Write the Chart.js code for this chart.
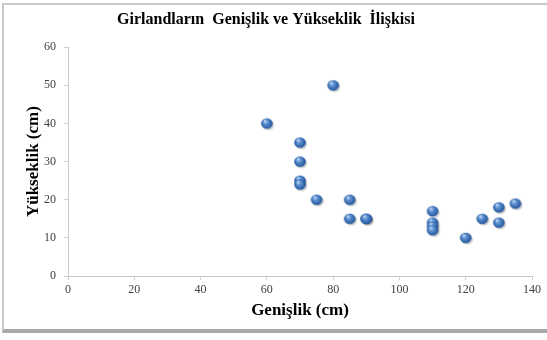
<!DOCTYPE html>
<html>
<head>
<meta charset="utf-8">
<script src="https://cdn.jsdelivr.net/npm/chart.js@4/dist/chart.umd.min.js"></script>
<style>
  html, body { margin: 0; padding: 0; background: #fff; }
  #wrap { position: relative; width: 547px; height: 340px; overflow: hidden; }
  #frame {
    position: absolute; left: 2px; top: 3px; width: 560px; height: 330px;
    border: 2px solid #c8c8c8; border-bottom: 4px solid #a9a9a9;
    box-sizing: border-box;
  }
  canvas { position: absolute; left: 0; top: 0; }
</style>
</head>
<body>
<div id="wrap">
  <div id="frame"></div>
  <canvas id="grafico" width="547" height="340"></canvas>
</div>
<script>
// genişlik (cm) ve yükseklik (cm) ölçümleri
const genislik = [60, 70, 70, 70, 70, 75, 80, 85, 85, 90, 90, 110, 110, 110, 110, 120, 125, 130, 130, 135];
const yukseklik = [40, 35, 30, 25, 24, 20, 50, 20, 15, 15, 15, 17, 14, 13, 12, 10, 15, 18, 14, 19];

const xTicks = [0, 20, 40, 60, 80, 100, 120, 140];
const yTicks = [0, 10, 20, 30, 40, 50, 60];

const serif = "'Liberation Serif', 'Times New Roman', serif";

// parlak mavi küre noktası
function kureNokta() {
    const c = document.createElement('canvas');
    c.width = 16; c.height = 16;
    const g = c.getContext('2d');
    g.fillStyle = 'rgba(0,0,0,0.18)';
    g.beginPath(); g.ellipse(9.5, 9.5, 5.8, 5.2, 0, 0, Math.PI * 2); g.fill();
    const grad = g.createRadialGradient(6, 5.5, 0.5, 8, 8, 6);
    grad.addColorStop(0, '#b9d3f2');
    grad.addColorStop(0.35, '#5b8fd0');
    grad.addColorStop(0.8, '#2f63a8');
    grad.addColorStop(1, '#1e4a85');
    g.fillStyle = grad;
    g.beginPath(); g.ellipse(8, 8, 5.8, 5.2, 0, 0, Math.PI * 2); g.fill();
    return c;
}

const noktalar = genislik.map((x, i) => ({ x: x, y: yukseklik[i] }));

new Chart(document.getElementById('grafico'), {
    type: 'scatter',
    data: {
        datasets: [{
            data: noktalar,
            pointStyle: kureNokta(),
            pointRadius: 6
        }]
    },
    options: {
        responsive: false,
        animation: false,
        layout: { padding: { left: 0, right: 15, top: 0, bottom: 0 } },
        plugins: {
            legend: { display: false },
            tooltip: { enabled: false },
            title: {
                display: true,
                text: 'Girlandların  Genişlik ve Yükseklik  İlişkisi',
                color: '#000',
                font: { family: serif, size: 16, weight: 'bold' },
                padding: { top: 10, bottom: 18 }
            }
        },
        scales: {
            x: {
                type: 'linear',
                min: 0, max: 140,
                afterBuildTicks: s => { s.ticks = xTicks.map(v => ({ value: v })); },
                afterFit: s => { s.height = 64; },
                grid: { drawOnChartArea: false, tickLength: 4, color: '#d0d0d0' },
                border: { color: '#c8c8c8' },
                ticks: { color: '#404040', padding: 3, font: { family: serif, size: 12 } },
                title: {
                    display: true,
                    text: 'Genişlik (cm)',
                    color: '#000',
                    font: { family: serif, size: 17, weight: 'bold' },
                    padding: { top: 0, bottom: 19 }
                }
            },
            y: {
                type: 'linear',
                min: 0, max: 60,
                afterBuildTicks: s => { s.ticks = yTicks.map(v => ({ value: v })); },
                afterFit: s => { s.width = 68; },
                grid: { drawOnChartArea: false, tickLength: 4, color: '#d0d0d0' },
                border: { color: '#c8c8c8' },
                ticks: { color: '#404040', padding: 8, font: { family: serif, size: 12 } },
                title: {
                    display: true,
                    text: 'Yükseklik (cm)',
                    color: '#000',
                    font: { family: serif, size: 17, weight: 'bold' },
                    padding: { top: 23, bottom: 0 }
                }
            }
        }
    }
});
</script>
</body>
</html>
